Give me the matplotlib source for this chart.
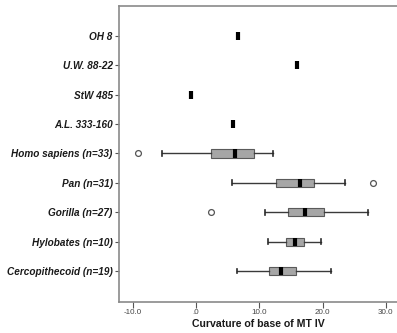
import matplotlib
matplotlib.use("Agg")
import matplotlib.pyplot as plt
from matplotlib.ticker import FuncFormatter

labels = ["OH 8", "U.W. 88-22", "StW 485", "A.L. 333-160",
          "Homo sapiens (n=33)", "Pan (n=31)", "Gorilla (n=27)",
          "Hylobates (n=10)", "Cercopithecoid (n=19)"]

fossil_names = ["OH 8", "U.W. 88-22", "StW 485", "A.L. 333-160"]
fossil_values = [6.6, 15.9, -0.8, 5.9]

group_names = ["Homo sapiens (n=33)", "Pan (n=31)", "Gorilla (n=27)",
               "Hylobates (n=10)", "Cercopithecoid (n=19)"]
whislo = [-5.3, 5.7, 10.9, 11.4, 6.4]
q1 = [2.4, 12.7, 14.6, 14.2, 11.5]
med = [6.2, 16.4, 17.2, 15.7, 13.4]
q3 = [9.2, 18.6, 20.2, 17.0, 15.8]
whishi = [12.1, 23.5, 27.1, 19.8, 21.4]
outliers = [[-9.1], [27.9], [2.3], [], []]

xticks = [-10, 0, 10, 20, 30]

W, H = 397, 333
fig = plt.figure(figsize=(W / 100, H / 100), dpi=100)
ax = fig.add_axes([119 / W, 1 - 301.7 / H, (397 - 119) / W, (301.7 - 6) / H])

pos = {n: i for i, n in enumerate(labels)}

stats = []
for i, n in enumerate(group_names):
    stats.append(dict(label=n, whislo=whislo[i], q1=q1[i], med=med[i],
                      q3=q3[i], whishi=whishi[i], fliers=outliers[i]))
ax.bxp(stats, positions=[pos[n] for n in group_names], vert=False,
       widths=0.28, capwidths=0.17, patch_artist=True,
       boxprops=dict(facecolor="#a6a6a6", edgecolor="#5a5a5a", linewidth=0.8),
       medianprops=dict(color="black", linewidth=3.0, solid_capstyle="butt"),
       whiskerprops=dict(color="#3a3a3a", linewidth=1.0),
       capprops=dict(color="#2a2a2a", linewidth=1.2),
       flierprops=dict(marker="o", markerfacecolor="white",
                       markeredgecolor="#555555", markersize=4.2,
                       markeredgewidth=0.9))

ax.plot(fossil_values, [pos[n] for n in fossil_names], linestyle="none",
        marker="|", markersize=5.5, markeredgewidth=3.0, color="black")

ax.set_xlim(-12.16, 31.75)
ax.set_ylim(8 + 1.045, -1.02)
ax.set_yticks(range(len(labels)))
ax.set_yticklabels(labels, fontfamily="Liberation Sans", fontweight="bold",
                   fontstyle="italic", fontsize=7.2, color="#1a1a1a")
ax.set_xticks(xticks)
ax.xaxis.set_major_formatter(FuncFormatter(
    lambda v, p: (".0" if v == 0 else f"{v:.1f}")))
for t in ax.get_xticklabels():
    t.set_fontfamily("Liberation Sans")
    t.set_fontsize(5.8)
    t.set_color("#444444")
ax.tick_params(axis="y", length=3, width=0.8, color="#555555", pad=1.5)
ax.tick_params(axis="x", length=4, width=0.8, color="#555555", pad=1.5)
ax.set_xlabel("Curvature of base of MT IV", fontfamily="Liberation Sans",
              fontweight="bold", fontsize=7.6, color="#1a1a1a", labelpad=2)

for s in ["left", "top", "bottom"]:
    ax.spines[s].set_color("#8a8a8a")
    ax.spines[s].set_linewidth(1.2)
ax.spines["right"].set_visible(False)

fig.savefig("out.png", dpi=100)
